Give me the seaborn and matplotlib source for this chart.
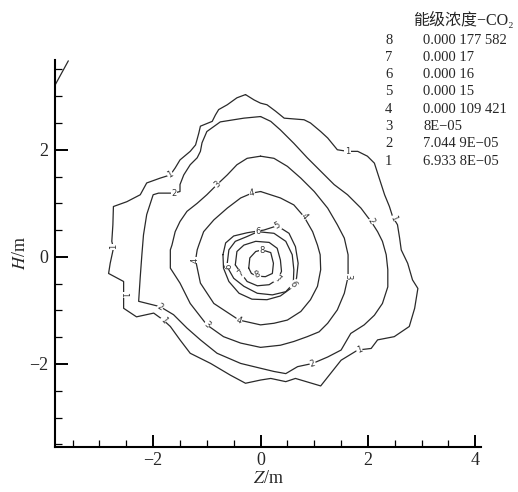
import seaborn as sns
import pandas as pd
import matplotlib.pyplot as plt
from matplotlib.ticker import MultipleLocator

# contour lines (Z, H in metres), one closed ring per level
c1_z = [-0.28, -0.12, 0.00, 0.12, 0.28, 0.44, 0.81, 0.93, 1.12, 1.25, 1.43, 1.62, 1.81, 1.99, 2.12,
        2.21, 2.31, 2.40, 2.46, 2.55, 2.59, 2.62, 2.74, 2.83, 2.93, 2.87, 2.77, 2.49, 2.18, 2.06,
        1.81, 1.50, 1.12, 0.65, 0.47, 0.19, 0.00, -0.28, -0.56, -0.93, -1.31, -1.50, -1.68, -1.81,
        -1.99, -2.31, -2.55, -2.55, -2.55, -2.83, -2.80, -2.74, -2.77, -2.75, -2.74, -2.49, -2.24,
        -2.12, -1.87, -1.68, -1.59, -1.50, -1.31, -1.21, -1.15, -1.12, -0.90, -0.84, -0.78, -0.62, -0.44]
c1_h = [3.03, 2.93, 2.87, 2.84, 2.72, 2.59, 2.56, 2.50, 2.34, 2.22, 2.00, 1.97, 1.97, 1.88, 1.75,
        1.47, 1.16, 0.94, 0.75, 0.60, 0.35, 0.13, -0.12, -0.43, -0.59, -0.96, -1.30, -1.49, -1.55, -1.71,
        -1.74, -1.93, -2.41, -2.27, -2.33, -2.27, -2.30, -2.36, -2.21, -1.99, -1.80, -1.55, -1.30, -1.18,
        -1.05, -1.12, -0.96, -0.71, -0.46, -0.31, -0.12, 0.16, 0.29, 0.60, 0.94, 1.03, 1.16,
        1.38, 1.47, 1.53, 1.66, 1.81, 1.97, 2.09, 2.31, 2.44, 2.53, 2.65, 2.75, 2.84, 2.97]

c2_z = [0.00, 0.19, 0.37, 0.62, 0.87, 1.12, 1.37, 1.62, 1.87, 1.99, 2.06, 2.18, 2.27, 2.34, 2.37,
        2.37, 2.27, 2.12, 1.93, 1.68, 1.50, 1.25, 0.97, 0.69, 0.47, 0.25, 0.00, -0.37, -0.81, -1.12,
        -1.37, -1.62, -1.87, -2.27, -2.24, -2.21, -2.18, -2.12, -2.00, -1.90, -1.62, -1.50, -1.50,
        -1.43, -1.31, -1.18, -1.12, -1.09, -1.00, -0.75, -0.50, -0.31]
c2_h = [2.62, 2.53, 2.37, 2.12, 1.85, 1.60, 1.35, 1.16, 0.91, 0.75, 0.66, 0.47, 0.29, 0.04, -0.24,
        -0.56, -0.87, -1.09, -1.27, -1.43, -1.74, -1.87, -1.99, -2.05, -2.18, -2.14, -2.08, -1.99, -1.80, -1.55,
        -1.33, -1.08, -0.93, -0.83, -0.37, 0.04, 0.41, 0.79, 1.16, 1.19, 1.19, 1.22, 1.35,
        1.53, 1.72, 1.85, 1.97, 2.13, 2.34, 2.52, 2.56, 2.59]

c3_z = [0.00, 0.25, 0.50, 0.75, 1.00, 1.25, 1.43, 1.56, 1.63, 1.63, 1.56, 1.43, 1.25, 1.09, 0.87,
        0.62, 0.37, 0.00, -0.37, -0.69, -1.00, -1.31, -1.50, -1.68, -1.68, -1.65, -1.59, -1.50,
        -1.37, -1.18, -1.00, -0.81, -0.62, -0.44, -0.25]
c3_h = [1.88, 1.84, 1.69, 1.47, 1.22, 0.91, 0.60, 0.35, 0.04, -0.37, -0.68, -0.99, -1.24, -1.40, -1.49,
        -1.58, -1.65, -1.69, -1.61, -1.49, -1.27, -0.87, -0.49, -0.21, 0.13, 0.22, 0.47, 0.66,
        0.85, 1.00, 1.16, 1.35, 1.53, 1.72, 1.84]

c4_z = [0.00, 0.37, 0.62, 0.81, 0.97, 1.06, 1.11, 1.12, 1.06, 0.93, 0.75, 0.50, 0.25, 0.00, -0.40,
        -0.87, -1.12, -1.21, -1.18, -1.15, -1.06, -0.87, -0.62, -0.37, -0.16]
c4_h = [1.22, 1.10, 0.97, 0.75, 0.47, 0.22, 0.04, -0.24, -0.55, -0.80, -1.02, -1.18, -1.24, -1.27, -1.18,
        -0.87, -0.49, -0.06, 0.13, 0.22, 0.47, 0.69, 0.91, 1.10, 1.19]

c5_z = [-0.70, -0.65, -0.50, -0.25, 0.06, 0.31, 0.53, 0.65, 0.70, 0.67, 0.56, 0.37, 0.12, -0.16, -0.40, -0.59, -0.69]
c5_h = [0.04, 0.26, 0.39, 0.45, 0.50, 0.58, 0.44, 0.19, -0.12, -0.40, -0.59, -0.73, -0.80, -0.79, -0.68, -0.46, -0.21]

c6_z = [-0.62, -0.59, -0.47, -0.25, -0.05, 0.25, 0.47, 0.59, 0.62, 0.61, 0.47, 0.22, -0.06, -0.31, -0.50, -0.59]
c6_h = [-0.12, 0.13, 0.29, 0.38, 0.47, 0.44, 0.29, 0.04, -0.24, -0.50, -0.65, -0.71, -0.68, -0.55, -0.40, -0.24]

c7_z = [-0.47, -0.44, -0.31, -0.09, 0.16, 0.31, 0.37, 0.39, 0.33, 0.16, -0.06, -0.25, -0.36]
c7_h = [-0.15, 0.10, 0.22, 0.29, 0.27, 0.16, -0.06, -0.27, -0.41, -0.52, -0.54, -0.46, -0.31]

c8_z = [-0.22, -0.20, -0.09, 0.03, 0.19, 0.24, 0.22, 0.09, -0.06, -0.17]
c8_h = [-0.21, -0.02, 0.10, 0.13, 0.08, -0.12, -0.31, -0.37, -0.36, -0.31]

# stray piece of a line at the top-left corner
frag_z = [-3.82, -3.58]
frag_h = [3.22, 3.66]

# contour labels: level, Z, H, rotation
lab_level = [1, 1, 1, 1, 1, 1, 1, 2, 2, 2, 2, 3, 3, 3, 4, 4, 4, 4, 5, 6, 6, 6, 7, 7, 8, 8]
lab_z = [-1.68, 1.62, 2.48, -2.74, -2.55, -1.81, 1.84, -1.61, 2.06, -1.87, 0.97, -0.81, 1.63, -1.00,
         -0.16, 0.82, -1.21, -0.40, 0.31, -0.05, -0.59, 0.61, -0.36, 0.33, 0.03, -0.06]
lab_h = [1.53, 1.97, 0.72, 0.19, -0.71, -1.18, -1.74, 1.19, 0.66, -0.94, -1.99, 1.35, -0.37, -1.27,
         1.19, 0.75, -0.06, -1.18, 0.58, 0.47, -0.17, -0.50, -0.31, -0.41, 0.11, -0.34]
lab_rot = [30, 0, -65, 90, -90, -50, 20, 0, -60, -30, 15, 45, -90, -40,
           10, -50, 90, -20, 30, 0, 90, -60, 40, -30, 0, 20]

# level table
levels = ['8', '7', '6', '5', '4', '3', '2', '1']
level_values = ['0.000 177 582', '0.000 17', '0.000 16', '0.000 15', '0.000 109 421',
                '8E\u221205', '7.044 9E\u221205', '6.933 8E\u221205']

rings = [(c1_z, c1_h), (c2_z, c2_h), (c3_z, c3_h), (c4_z, c4_h),
         (c5_z, c5_h), (c6_z, c6_h), (c7_z, c7_h), (c8_z, c8_h)]
rows = []
for i, (zs, hs) in enumerate(rings):
    zs = list(zs) + [zs[0]]
    hs = list(hs) + [hs[0]]
    for k in range(len(zs)):
        rows.append({'level': i + 1, 'order': k, 'Z': zs[k], 'H': hs[k]})
for k in range(len(frag_z)):
    rows.append({'level': 0, 'order': k, 'Z': frag_z[k], 'H': frag_h[k]})
df = pd.DataFrame(rows)

sns.set_style('ticks')
plt.rcParams['font.family'] = ['Liberation Serif', 'Noto Sans CJK SC', 'DejaVu Sans']
plt.rcParams['mathtext.fontset'] = 'stix'

fig = plt.figure(figsize=(5.18, 4.92), dpi=100)
ax = fig.add_axes([0.107, 0.0915, 0.821, 0.787])

sns.lineplot(data=df, x='Z', y='H', units='level', estimator=None, sort=False,
             color='#2a2a2a', linewidth=0.9, ax=ax, legend=False)

for lv, z, h, r in zip(lab_level, lab_z, lab_h, lab_rot):
    ax.text(z, h, str(lv), fontsize=6, rotation=r, ha='center', va='center',
            family='DejaVu Sans', color='#333333',
            bbox=dict(boxstyle='square,pad=0.05', fc='white', ec='none'))

ax.set_xlim(-3.82, 4.1)
ax.set_ylim(-3.55, 3.68)
ax.xaxis.set_major_locator(MultipleLocator(2))
ax.xaxis.set_minor_locator(MultipleLocator(0.5))
ax.yaxis.set_major_locator(MultipleLocator(2))
ax.yaxis.set_minor_locator(MultipleLocator(0.5))
ax.tick_params(which='both', direction='in', color='black', labelsize=13)
ax.tick_params(which='major', length=9, width=1.4)
ax.tick_params(which='minor', length=5, width=0.9)
ax.tick_params(axis='y', pad=5)
ax.set_xticks([-2, 0, 2, 4])
ax.set_yticks([-2, 0, 2])
ax.set_xticklabels(['\u22122', '0', '2', '4'])
ax.set_yticklabels(['\u22122', '0', '2'])
for s in ['left', 'bottom']:
    ax.spines[s].set_linewidth(1.5)
    ax.spines[s].set_color('black')
sns.despine(ax=ax)
ax.set_xlabel('$Z$/m', fontsize=13, labelpad=1)
ax.set_ylabel('$H$/m', fontsize=13, labelpad=0)

fig.text(413 / 518, 1 - 20 / 492, '能级浓度\u2212CO\u2082', fontsize=11.5, va='center', ha='left')
for j, (lv, val) in enumerate(zip(levels, level_values)):
    yy = 1 - (40 + j * 17.3) / 492
    fig.text(385 / 518, yy, lv, fontsize=10.5, va='center', ha='left')
    fig.text(423 / 518, yy, val, fontsize=10.5, va='center', ha='left')

plt.savefig('out.png', dpi=100)
